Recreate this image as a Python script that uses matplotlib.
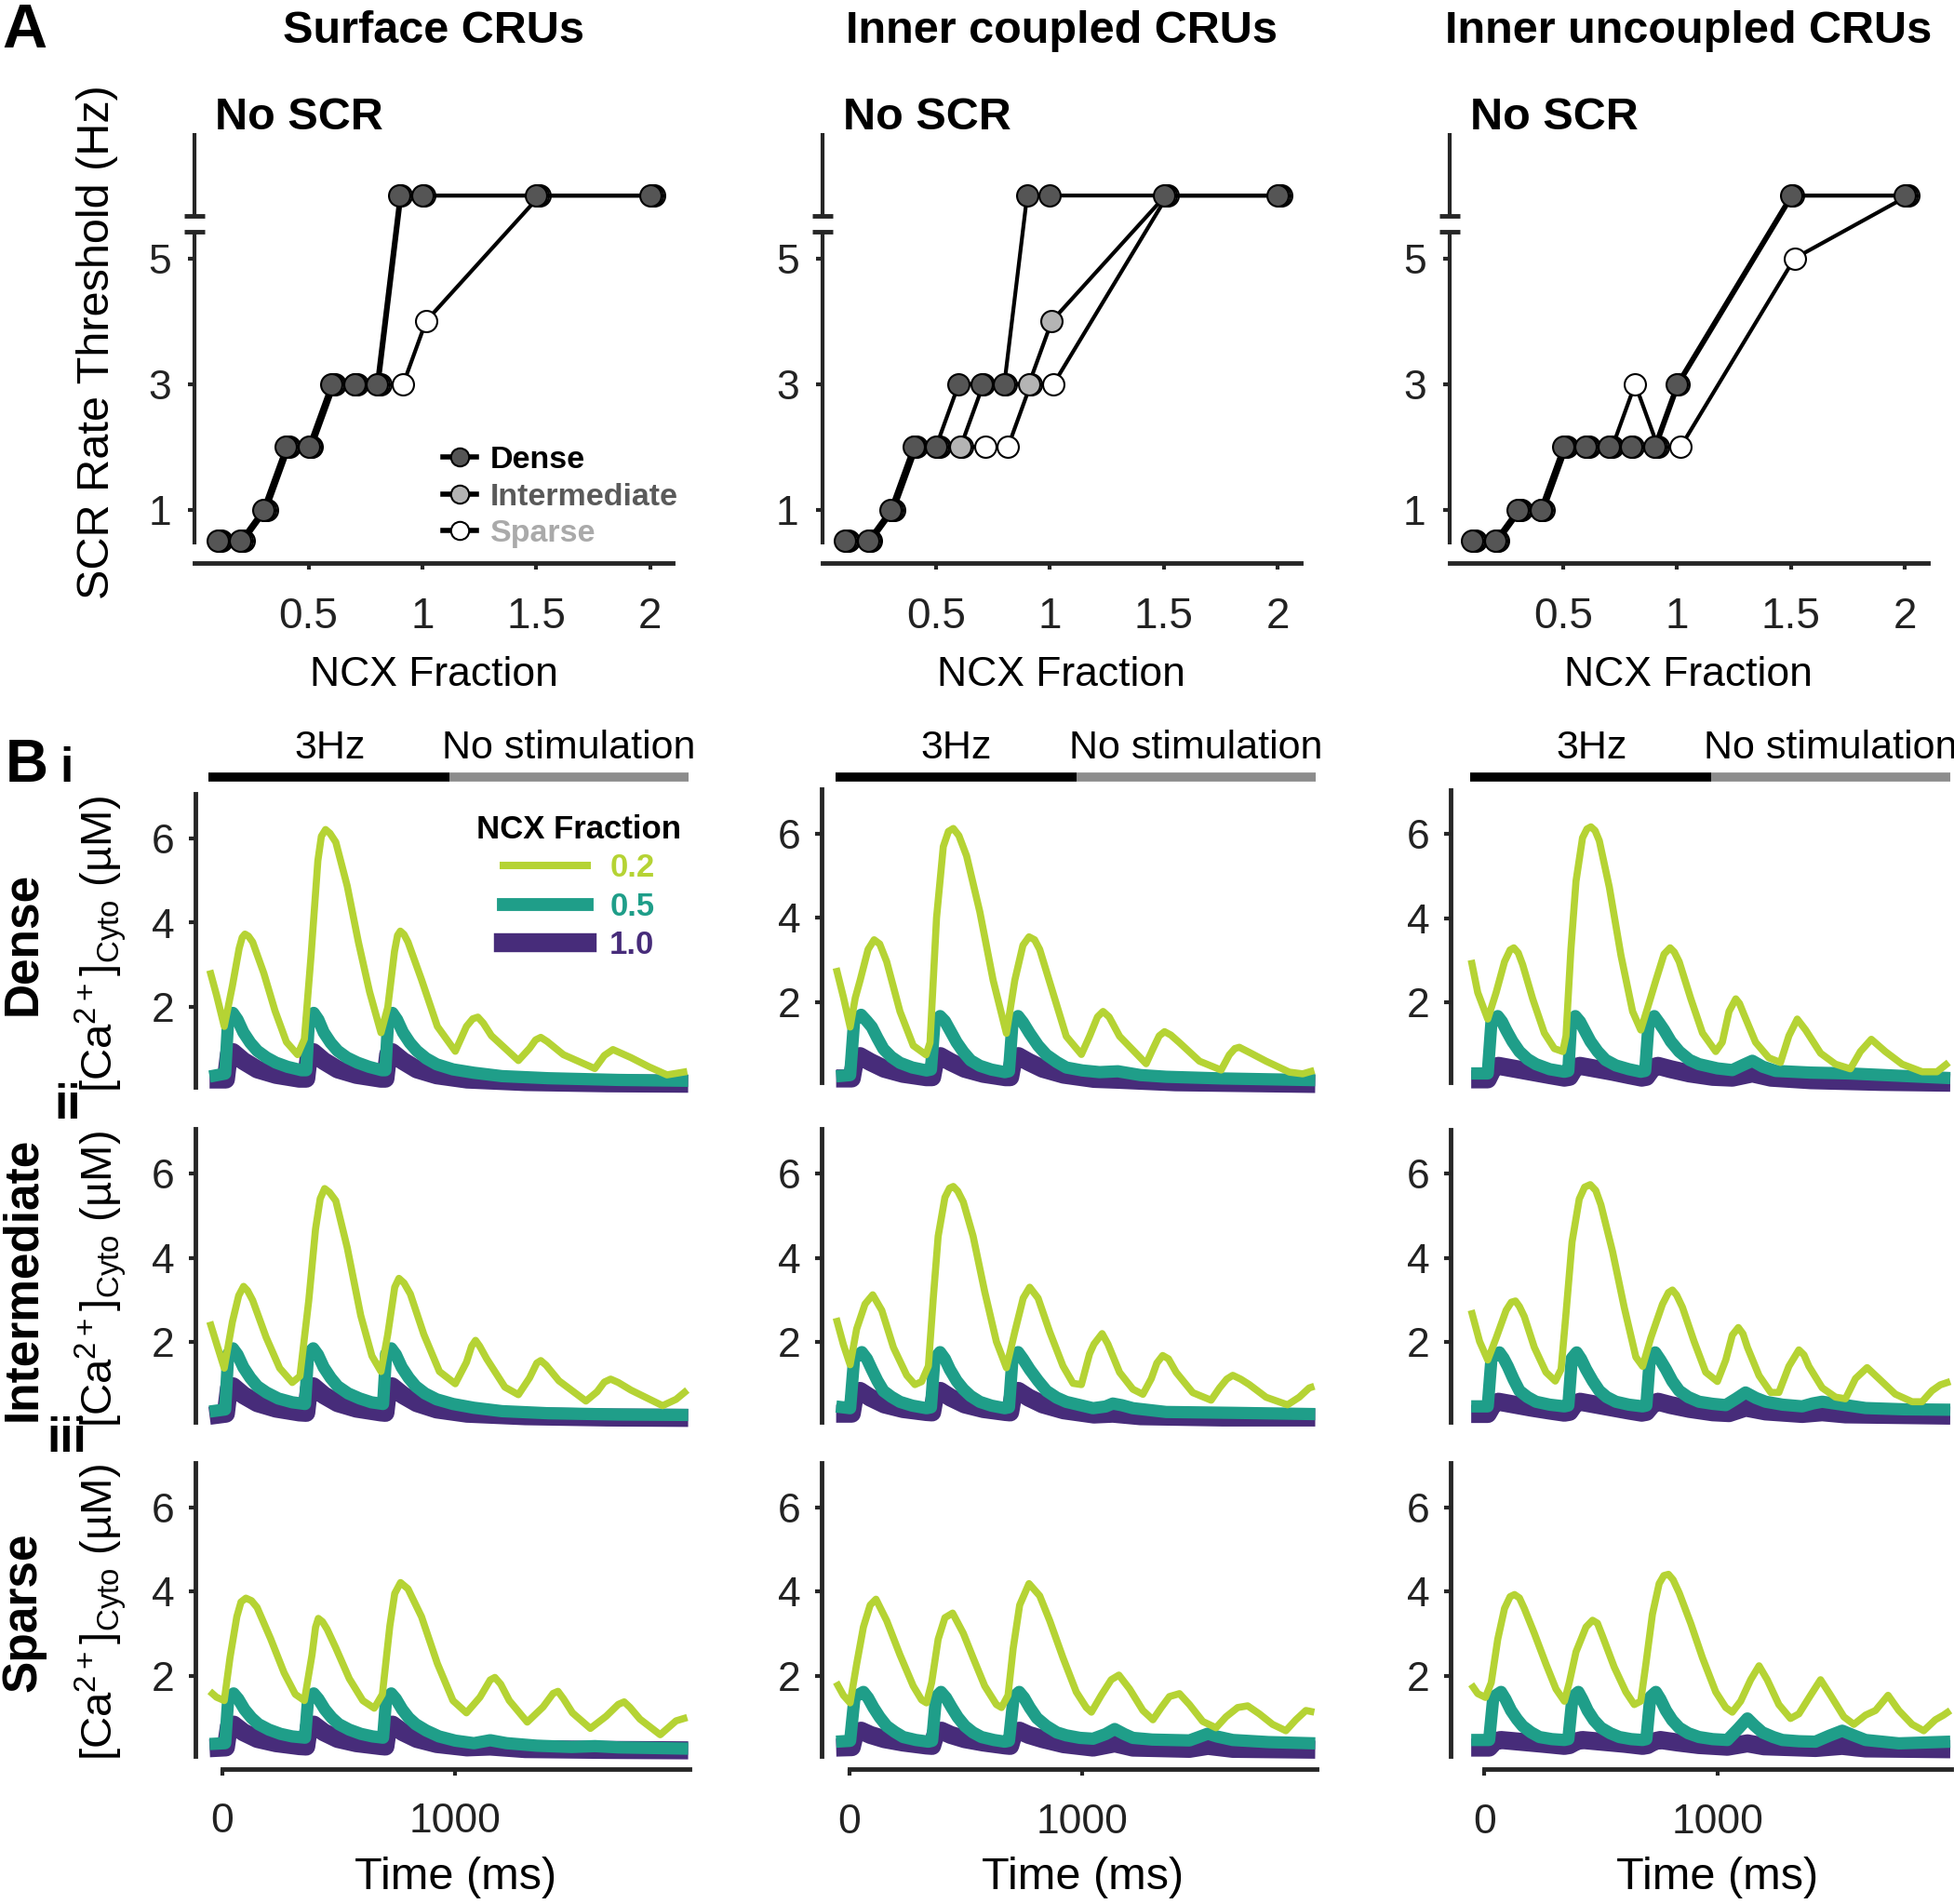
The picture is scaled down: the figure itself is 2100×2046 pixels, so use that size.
import matplotlib
matplotlib.use('Agg')
import matplotlib.pyplot as plt
from matplotlib.lines import Line2D

plt.rcParams['font.family'] = ['Liberation Sans', 'DejaVu Sans']
plt.rcParams['mathtext.default'] = 'regular'

# ---------------- panel A data (No SCR plotted at 6) ----------------
ncx = [0.1, 0.2, 0.3, 0.4, 0.5, 0.6, 0.7, 0.8, 0.9, 1.0, 1.5, 2.0]
surf_dense = [0.5, 0.5, 1, 2, 2, 3, 3, 3, 6, 6, 6, 6]
surf_inter = [0.5, 0.5, 1, 2, 2, 3, 3, 3, 6, 6, 6, 6]
surf_sparse = [0.5, 0.5, 1, 2, 2, 3, 3, 3, 3, 4, 6, 6]
coup_dense = [0.5, 0.5, 1, 2, 2, 3, 3, 3, 6, 6, 6, 6]
coup_inter = [0.5, 0.5, 1, 2, 2, 2, 3, 3, 3, 4, 6, 6]
coup_sparse = [0.5, 0.5, 1, 2, 2, 2, 2, 2, 3, 3, 6, 6]
unco_dense = [0.5, 0.5, 1, 1, 2, 2, 2, 2, 2, 3, 6, 6]
unco_inter = [0.5, 0.5, 1, 1, 2, 2, 2, 2, 2, 3, 6, 6]
unco_sparse = [0.5, 0.5, 1, 1, 2, 2, 2, 3, 2, 2, 5, 6]

col_titles = ['Surface CRUs', 'Inner coupled CRUs', 'Inner uncoupled CRUs']
dens_names = ['Dense', 'Intermediate', 'Sparse']

# ---------------- panel B traces: (time ms, [Ca] uM) ----------------
# surface CRUs
surf_dense_f02 = [(-54, 2.87), (-25, 2.28), (8, 1.54), (43, 2.50), (72, 3.39), (85, 3.65), (97, 3.73), (112, 3.68),
                  (130, 3.54), (178, 2.80), (226, 1.91), (275, 1.17), (323, 0.87), (352, 1.24), (381, 3.24),
                  (410, 5.47), (425, 6.05), (443, 6.21), (462, 6.12), (487, 5.91), (536, 4.87), (584, 3.54),
                  (632, 2.36), (681, 1.39), (710, 1.99), (739, 3.32), (752, 3.70), (764, 3.80), (780, 3.72),
                  (797, 3.54), (855, 2.65), (923, 1.54), (1000, 0.95), (1048, 1.54), (1075, 1.72),
                  (1097, 1.76), (1120, 1.62), (1155, 1.32), (1271, 0.73), (1319, 1.02), (1345, 1.22), (1367, 1.28),
                  (1395, 1.18), (1464, 0.87), (1599, 0.54), (1640, 0.85), (1677, 0.99), (1754, 0.80), (1832, 0.58),
                  (1909, 0.39), (1996, 0.47)]
surf_dense_f05 = [(-55, 0.35), (12, 0.42), (25, 1.72), (45, 1.86), (65, 1.70), (90, 1.40), (120, 1.15), (150, 0.96),
                  (190, 0.80), (230, 0.68), (280, 0.58), (340, 0.50), (360, 0.50), (372, 1.72), (392, 1.86),
                  (412, 1.70), (435, 1.40), (465, 1.15), (495, 0.96), (535, 0.80), (580, 0.68), (630, 0.58),
                  (685, 0.50), (700, 0.50), (712, 1.72), (730, 1.86), (750, 1.70), (775, 1.40), (805, 1.15),
                  (835, 0.96), (875, 0.78), (920, 0.64), (990, 0.52), (1080, 0.44), (1200, 0.36), (1400, 0.31),
                  (1700, 0.27), (2000, 0.25)]
surf_dense_f10 = [(-55, 0.28), (15, 0.28), (28, 0.88), (45, 0.93), (90, 0.72), (150, 0.52), (230, 0.39), (330, 0.30),
                  (360, 0.30), (372, 0.88), (390, 0.93), (435, 0.72), (495, 0.52), (575, 0.39), (680, 0.30),
                  (700, 0.30), (712, 0.88), (728, 0.93), (775, 0.72), (835, 0.52), (920, 0.38), (1050, 0.28),
                  (1300, 0.22), (1650, 0.19), (2000, 0.18)]
surf_inter_f02 = [(-54, 2.48), (-21, 1.89), (8, 1.38), (43, 2.48), (70, 3.10), (91, 3.32), (108, 3.22), (130, 2.99),
                  (188, 2.11), (246, 1.38), (300, 1.04), (333, 1.19), (371, 2.99), (400, 4.68), (420, 5.40),
                  (439, 5.64), (460, 5.55), (487, 5.35), (536, 4.24), (594, 2.63), (642, 1.67), (681, 1.30),
                  (710, 2.18), (740, 3.30), (758, 3.51), (780, 3.40), (807, 3.14), (865, 2.18), (932, 1.30),
                  (1000, 1.01), (1048, 1.52), (1070, 1.90), (1087, 2.04), (1105, 1.90), (1135, 1.60), (1213, 0.93),
                  (1271, 0.75), (1319, 1.15), (1350, 1.50), (1367, 1.56), (1390, 1.45), (1445, 1.08), (1561, 0.60),
                  (1609, 0.82), (1640, 1.05), (1667, 1.12), (1700, 1.04), (1754, 0.86), (1890, 0.49), (1948, 0.64),
                  (1996, 0.86)]
surf_inter_f05 = [(-55, 0.35), (12, 0.40), (25, 1.72), (45, 1.85), (65, 1.70), (90, 1.40), (120, 1.15), (150, 0.95),
                  (190, 0.80), (240, 0.66), (300, 0.57), (355, 0.53), (368, 1.72), (390, 1.85), (410, 1.70),
                  (435, 1.40), (465, 1.15), (495, 0.95), (540, 0.78), (590, 0.66), (640, 0.57), (690, 0.53),
                  (703, 1.72), (725, 1.85), (745, 1.70), (770, 1.40), (800, 1.15), (830, 0.95), (870, 0.78),
                  (920, 0.64), (990, 0.53), (1080, 0.44), (1200, 0.36), (1400, 0.31), (1700, 0.28), (2000, 0.27)]
surf_inter_f10 = [(-55, 0.25), (15, 0.30), (28, 0.90), (45, 0.95), (90, 0.74), (150, 0.55), (230, 0.42), (330, 0.33),
                  (360, 0.32), (372, 0.90), (390, 0.95), (435, 0.74), (495, 0.55), (575, 0.42), (680, 0.33),
                  (700, 0.32), (712, 0.90), (728, 0.95), (775, 0.74), (835, 0.55), (920, 0.40), (1050, 0.30),
                  (1300, 0.24), (1650, 0.21), (2000, 0.20)]
surf_sparse_f02 = [(-54, 1.63), (-25, 1.49), (8, 1.41), (33, 2.44), (62, 3.40), (80, 3.75), (101, 3.84), (125, 3.78),
                   (149, 3.62), (207, 2.88), (265, 2.07), (313, 1.56), (352, 1.41), (385, 2.50), (400, 3.15),
                   (412, 3.36), (430, 3.28), (450, 3.10), (487, 2.66), (545, 1.93), (603, 1.41), (652, 1.23),
                   (687, 1.56), (719, 3.18), (740, 3.95), (765, 4.21), (797, 4.06), (855, 3.40), (923, 2.29),
                   (990, 1.41), (1048, 1.12), (1106, 1.49), (1150, 1.90), (1170, 1.96), (1195, 1.80), (1232, 1.41),
                   (1309, 0.90), (1377, 1.26), (1420, 1.58), (1441, 1.63), (1465, 1.45), (1503, 1.12), (1580, 0.75),
                   (1648, 1.04), (1700, 1.32), (1725, 1.38), (1750, 1.25), (1793, 0.97), (1880, 0.60), (1948, 0.93),
                   (1996, 1.01)]
surf_sparse_f05 = [(-55, 0.38), (12, 0.40), (25, 1.45), (48, 1.58), (68, 1.45), (95, 1.20), (125, 1.00), (155, 0.85),
                   (200, 0.72), (250, 0.62), (300, 0.56), (355, 0.53), (368, 1.45), (392, 1.58), (412, 1.45),
                   (440, 1.20), (470, 1.00), (500, 0.85), (545, 0.72), (595, 0.62), (645, 0.56), (690, 0.53),
                   (703, 1.45), (725, 1.58), (745, 1.45), (772, 1.20), (800, 1.00), (830, 0.85), (875, 0.70),
                   (930, 0.56), (1000, 0.46), (1080, 0.40), (1150, 0.47), (1220, 0.40), (1350, 0.34), (1500, 0.31),
                   (1600, 0.33), (1700, 0.30), (2000, 0.27)]
surf_sparse_f10 = [(-55, 0.28), (15, 0.30), (28, 0.80), (48, 0.84), (90, 0.66), (150, 0.50), (230, 0.40), (330, 0.33),
                   (360, 0.32), (372, 0.80), (392, 0.84), (435, 0.66), (495, 0.50), (575, 0.40), (680, 0.33),
                   (700, 0.32), (712, 0.80), (730, 0.84), (775, 0.66), (835, 0.50), (920, 0.38), (1050, 0.30),
                   (1150, 0.32), (1300, 0.26), (1650, 0.24), (2000, 0.23)]

# inner coupled CRUs
coup_dense_f02 = [(-57, 2.81), (-25, 2.10), (3, 1.41), (25, 2.10), (46, 2.52), (80, 3.25), (106, 3.48), (130, 3.38),
                  (160, 2.96), (217, 1.78), (274, 0.97), (329, 0.75), (346, 1.04), (374, 4.00), (403, 5.69),
                  (425, 6.05), (446, 6.12), (470, 5.95), (503, 5.47), (560, 4.14), (617, 2.52), (674, 1.26),
                  (710, 2.52), (745, 3.35), (771, 3.55), (795, 3.48), (817, 3.25), (874, 2.22), (931, 1.19),
                  (996, 0.76), (1031, 1.19), (1065, 1.65), (1089, 1.78), (1115, 1.65), (1160, 1.19), (1274, 0.54),
                  (1303, 0.89), (1330, 1.20), (1353, 1.30), (1380, 1.22), (1417, 1.04), (1503, 0.60), (1596, 0.39),
                  (1631, 0.75), (1655, 0.90), (1674, 0.93), (1720, 0.80), (1789, 0.60), (1889, 0.34), (1946, 0.30),
                  (1996, 0.38)]
coup_dense_f05 = [(-57, 0.24), (3, 0.27), (20, 1.55), (50, 1.70), (75, 1.55), (96, 1.41), (120, 1.15), (146, 0.89),
                  (180, 0.70), (217, 0.56), (270, 0.45), (331, 0.38), (350, 0.40), (365, 1.50), (389, 1.67),
                  (410, 1.55), (431, 1.34), (460, 1.05), (489, 0.82), (520, 0.62), (560, 0.49), (610, 0.40),
                  (667, 0.34), (685, 0.36), (700, 1.50), (724, 1.67), (745, 1.52), (774, 1.26), (810, 0.97),
                  (846, 0.75), (890, 0.58), (931, 0.45), (1000, 0.38), (1074, 0.34), (1153, 0.36), (1250, 0.27),
                  (1360, 0.23), (1600, 0.19), (2000, 0.15)]
coup_dense_f10 = [(-57, 0.19), (10, 0.19), (25, 0.66), (45, 0.72), (90, 0.58), (150, 0.42), (230, 0.30), (330, 0.22),
                  (355, 0.22), (370, 0.66), (390, 0.72), (435, 0.58), (495, 0.42), (575, 0.30), (670, 0.22),
                  (690, 0.22), (705, 0.66), (725, 0.72), (770, 0.58), (830, 0.42), (920, 0.28), (1050, 0.18),
                  (1150, 0.16), (1400, 0.10), (2000, 0.06)]
coup_inter_f02 = [(-57, 2.57), (-26, 1.94), (3, 1.46), (31, 2.31), (67, 2.90), (100, 3.12), (139, 2.75), (189, 1.87),
                  (246, 1.21), (281, 0.99), (310, 1.06), (339, 1.43), (360, 3.04), (381, 4.51), (410, 5.43),
                  (430, 5.65), (446, 5.69), (465, 5.58), (489, 5.32), (531, 4.51), (581, 3.19), (631, 2.01),
                  (674, 1.39), (710, 2.24), (746, 3.04), (774, 3.30), (810, 3.04), (860, 2.24), (917, 1.43),
                  (960, 1.02), (996, 0.99), (1031, 1.72), (1050, 1.95), (1085, 2.20), (1110, 1.95), (1160, 1.28),
                  (1217, 0.88), (1260, 0.76), (1296, 1.13), (1320, 1.50), (1345, 1.68), (1370, 1.60), (1403, 1.28),
                  (1474, 0.80), (1553, 0.62), (1589, 0.91), (1620, 1.12), (1646, 1.21), (1680, 1.12), (1717, 0.99),
                  (1789, 0.69), (1881, 0.51), (1931, 0.69), (1974, 0.91), (1996, 0.95)]
coup_inter_f05 = [(-57, 0.47), (3, 0.43), (20, 1.60), (53, 1.76), (75, 1.60), (96, 1.35), (120, 1.08), (146, 0.84),
                  (180, 0.70), (217, 0.58), (270, 0.49), (331, 0.43), (350, 0.45), (365, 1.60), (389, 1.76),
                  (410, 1.60), (431, 1.35), (460, 1.08), (489, 0.88), (520, 0.72), (560, 0.58), (610, 0.49),
                  (667, 0.43), (685, 0.45), (700, 1.60), (724, 1.76), (745, 1.60), (774, 1.35), (810, 1.08),
                  (846, 0.84), (890, 0.68), (931, 0.58), (1000, 0.49), (1046, 0.43), (1100, 0.47), (1131, 0.54),
                  (1170, 0.50), (1217, 0.43), (1360, 0.34), (1646, 0.32), (2000, 0.29)]
coup_inter_f10 = [(-57, 0.30), (10, 0.30), (25, 0.80), (45, 0.84), (90, 0.68), (150, 0.52), (230, 0.41), (330, 0.34),
                  (355, 0.33), (370, 0.80), (390, 0.84), (435, 0.68), (495, 0.52), (575, 0.41), (670, 0.34),
                  (690, 0.33), (705, 0.80), (725, 0.84), (770, 0.68), (830, 0.52), (920, 0.38), (1050, 0.28),
                  (1131, 0.30), (1250, 0.24), (1600, 0.21), (2000, 0.21)]
coup_sparse_f02 = [(-57, 1.85), (-26, 1.54), (3, 1.36), (31, 2.28), (60, 3.16), (89, 3.68), (114, 3.82), (160, 3.31),
                   (217, 2.50), (274, 1.76), (310, 1.43), (331, 1.36), (353, 1.84), (381, 2.87), (410, 3.38),
                   (443, 3.49), (489, 3.01), (531, 2.43), (581, 1.76), (631, 1.32), (653, 1.25), (681, 1.54),
                   (703, 2.65), (731, 3.68), (771, 4.19), (817, 3.90), (860, 3.31), (917, 2.43), (974, 1.62),
                   (1017, 1.25), (1039, 1.14), (1081, 1.54), (1124, 1.91), (1157, 2.02), (1203, 1.69), (1260, 1.18),
                   (1303, 0.96), (1339, 1.25), (1374, 1.51), (1417, 1.58), (1460, 1.32), (1517, 0.92), (1574, 0.77),
                   (1617, 1.03), (1667, 1.25), (1710, 1.29), (1760, 1.10), (1817, 0.85), (1874, 0.70), (1917, 0.96),
                   (1960, 1.18), (1996, 1.14)]
coup_sparse_f05 = [(-57, 0.44), (3, 0.46), (22, 1.50), (60, 1.62), (80, 1.48), (103, 1.25), (130, 1.02), (160, 0.81),
                   (195, 0.67), (231, 0.55), (285, 0.48), (339, 0.44), (355, 0.46), (372, 1.50), (393, 1.62),
                   (415, 1.48), (439, 1.25), (465, 1.02), (496, 0.81), (530, 0.66), (567, 0.55), (620, 0.48),
                   (667, 0.44), (685, 0.46), (705, 1.50), (729, 1.62), (750, 1.48), (774, 1.25), (805, 1.00),
                   (846, 0.81), (890, 0.66), (931, 0.59), (990, 0.53), (1046, 0.51), (1100, 0.62), (1139, 0.74),
                   (1180, 0.62), (1217, 0.53), (1300, 0.49), (1460, 0.47), (1500, 0.55), (1539, 0.63), (1580, 0.56),
                   (1646, 0.48), (1800, 0.43), (2000, 0.40)]
coup_sparse_f10 = [(-57, 0.30), (10, 0.31), (25, 0.66), (50, 0.70), (90, 0.60), (150, 0.50), (230, 0.42), (330, 0.35),
                   (355, 0.34), (372, 0.66), (395, 0.70), (435, 0.60), (495, 0.50), (575, 0.42), (670, 0.35),
                   (690, 0.34), (707, 0.66), (730, 0.70), (770, 0.60), (830, 0.50), (920, 0.38), (1046, 0.30),
                   (1139, 0.40), (1217, 0.30), (1460, 0.27), (1539, 0.34), (1646, 0.27), (2000, 0.25)]

# inner uncoupled CRUs
unco_dense_f02 = [(-57, 3.01), (-29, 2.24), (14, 1.61), (50, 2.24), (86, 2.97), (110, 3.25), (126, 3.30), (145, 3.18),
                  (164, 2.90), (207, 2.09), (257, 1.28), (300, 0.91), (336, 0.84), (350, 1.21), (371, 3.26),
                  (393, 4.88), (421, 5.91), (440, 6.12), (457, 6.17), (475, 6.08), (493, 5.84), (536, 4.74),
                  (586, 3.12), (636, 1.79), (671, 1.35), (700, 1.87), (736, 2.53), (771, 3.15), (797, 3.30),
                  (815, 3.20), (836, 2.97), (886, 2.09), (936, 1.28), (993, 0.84), (1021, 1.06), (1050, 1.79),
                  (1079, 2.09), (1095, 1.98), (1114, 1.72), (1164, 1.06), (1221, 0.69), (1271, 0.58), (1307, 1.21),
                  (1343, 1.61), (1379, 1.35), (1443, 0.80), (1507, 0.54), (1571, 0.43), (1614, 0.84), (1661, 1.13),
                  (1721, 0.84), (1793, 0.54), (1879, 0.36), (1943, 0.36), (1993, 0.58)]
unco_dense_f05 = [(-57, 0.32), (14, 0.32), (30, 1.55), (57, 1.68), (75, 1.55), (93, 1.35), (120, 1.08), (150, 0.84),
                  (185, 0.66), (221, 0.54), (280, 0.42), (343, 0.36), (360, 0.38), (372, 1.55), (390, 1.68),
                  (410, 1.55), (429, 1.35), (455, 1.08), (486, 0.84), (520, 0.64), (564, 0.51), (620, 0.42),
                  (671, 0.36), (690, 0.38), (705, 1.55), (729, 1.68), (750, 1.52), (771, 1.35), (800, 1.08),
                  (836, 0.84), (880, 0.64), (921, 0.54), (1000, 0.44), (1064, 0.40), (1110, 0.52), (1150, 0.62),
                  (1195, 0.48), (1250, 0.38), (1400, 0.34), (1564, 0.32), (1800, 0.26), (2000, 0.21)]
unco_dense_f10 = [(-57, 0.18), (14, 0.18), (40, 0.47), (60, 0.50), (120, 0.44), (200, 0.36), (280, 0.28), (343, 0.22),
                  (365, 0.24), (390, 0.47), (410, 0.50), (470, 0.44), (550, 0.36), (620, 0.28), (675, 0.22),
                  (695, 0.24), (725, 0.47), (745, 0.50), (800, 0.42), (880, 0.32), (980, 0.24), (1064, 0.22),
                  (1150, 0.32), (1230, 0.22), (1400, 0.16), (1700, 0.12), (2000, 0.10)]
unco_inter_f02 = [(-57, 2.76), (-21, 2.02), (14, 1.58), (50, 2.10), (93, 2.76), (115, 2.95), (133, 2.98), (150, 2.85),
                  (171, 2.61), (214, 1.88), (264, 1.29), (304, 1.08), (329, 1.36), (350, 2.68), (376, 4.38),
                  (407, 5.40), (430, 5.68), (454, 5.74), (478, 5.60), (500, 5.26), (550, 4.15), (600, 2.83),
                  (650, 1.65), (679, 1.43), (714, 2.10), (764, 2.90), (790, 3.18), (807, 3.24), (825, 3.12),
                  (850, 2.83), (900, 2.02), (950, 1.29), (1000, 1.07), (1036, 1.58), (1064, 2.17), (1090, 2.35),
                  (1110, 2.20), (1129, 1.88), (1179, 1.21), (1229, 0.81), (1264, 0.81), (1307, 1.43), (1350, 1.82),
                  (1372, 1.70), (1393, 1.43), (1450, 0.92), (1507, 0.70), (1550, 0.66), (1593, 1.14), (1643, 1.40),
                  (1693, 1.14), (1764, 0.77), (1836, 0.59), (1879, 0.59), (1921, 0.85), (1957, 0.99), (2000, 1.07)]
unco_inter_f05 = [(-57, 0.48), (14, 0.48), (30, 1.62), (64, 1.76), (82, 1.62), (100, 1.43), (125, 1.12), (150, 0.85),
                  (185, 0.70), (221, 0.59), (280, 0.52), (343, 0.48), (360, 0.50), (375, 1.62), (396, 1.76),
                  (415, 1.60), (436, 1.36), (465, 1.08), (493, 0.85), (525, 0.70), (564, 0.59), (620, 0.52),
                  (679, 0.48), (695, 0.50), (710, 1.62), (733, 1.76), (755, 1.58), (779, 1.36), (806, 1.08),
                  (836, 0.85), (875, 0.70), (921, 0.59), (980, 0.54), (1036, 0.51), (1080, 0.66), (1121, 0.81),
                  (1165, 0.68), (1207, 0.59), (1280, 0.52), (1364, 0.48), (1410, 0.55), (1450, 0.59), (1500, 0.55),
                  (1550, 0.51), (1636, 0.44), (1800, 0.41), (2000, 0.40)]
unco_inter_f10 = [(-57, 0.30), (14, 0.30), (40, 0.55), (60, 0.59), (120, 0.53), (200, 0.45), (280, 0.38), (343, 0.33),
                  (365, 0.35), (390, 0.55), (410, 0.59), (470, 0.53), (550, 0.45), (620, 0.38), (675, 0.33),
                  (695, 0.35), (725, 0.55), (745, 0.59), (800, 0.51), (880, 0.42), (980, 0.34), (1050, 0.32),
                  (1121, 0.45), (1207, 0.36), (1364, 0.30), (1450, 0.34), (1550, 0.29), (2000, 0.26)]
unco_sparse_f02 = [(-57, 1.80), (-29, 1.58), (4, 1.49), (29, 1.84), (57, 2.87), (86, 3.60), (110, 3.88), (129, 3.93),
                   (150, 3.85), (171, 3.60), (214, 3.01), (264, 2.28), (307, 1.69), (343, 1.40), (364, 1.84),
                   (393, 2.57), (436, 3.16), (464, 3.32), (485, 3.25), (507, 2.94), (557, 2.21), (607, 1.62),
                   (643, 1.32), (671, 1.40), (693, 2.28), (721, 3.46), (750, 4.19), (770, 4.38), (790, 4.41),
                   (810, 4.28), (836, 3.97), (886, 3.24), (936, 2.43), (993, 1.62), (1036, 1.25), (1064, 1.14),
                   (1100, 1.40), (1143, 1.91), (1179, 2.24), (1214, 1.91), (1264, 1.32), (1314, 0.99), (1350, 1.10),
                   (1400, 1.54), (1443, 1.91), (1486, 1.54), (1543, 1.03), (1586, 0.85), (1636, 1.07), (1679, 1.18),
                   (1733, 1.54), (1779, 1.18), (1836, 0.85), (1886, 0.70), (1936, 0.96), (1971, 1.07), (2000, 1.18)]
unco_sparse_f05 = [(-57, 0.48), (20, 0.48), (38, 1.50), (71, 1.62), (90, 1.45), (114, 1.18), (140, 0.97), (164, 0.81),
                   (200, 0.66), (236, 0.55), (290, 0.50), (343, 0.48), (360, 0.50), (378, 1.50), (403, 1.62),
                   (420, 1.45), (443, 1.18), (470, 0.95), (500, 0.77), (540, 0.64), (579, 0.55), (630, 0.50),
                   (679, 0.48), (695, 0.50), (712, 1.50), (736, 1.62), (755, 1.45), (779, 1.18), (806, 0.95),
                   (836, 0.77), (875, 0.64), (921, 0.55), (980, 0.50), (1043, 0.48), (1090, 0.75), (1129, 0.99),
                   (1160, 0.82), (1193, 0.66), (1240, 0.55), (1279, 0.48), (1350, 0.45), (1421, 0.44), (1480, 0.58),
                   (1536, 0.70), (1580, 0.60), (1636, 0.48), (1779, 0.40), (2000, 0.44)]
unco_sparse_f10 = [(-57, 0.30), (20, 0.30), (45, 0.45), (70, 0.48), (150, 0.44), (250, 0.39), (343, 0.34), (365, 0.36),
                   (395, 0.45), (420, 0.48), (500, 0.44), (600, 0.39), (679, 0.34), (700, 0.36), (730, 0.45),
                   (755, 0.48), (830, 0.42), (920, 0.36), (1043, 0.32), (1129, 0.40), (1200, 0.33), (1421, 0.29),
                   (1536, 0.34), (1636, 0.28), (2000, 0.26)]

fractions = ['0.2', '0.5', '1.0']
trace_colors = ['#b5d334', '#1f9e89', '#472c7a']
trace_lw = [5.5, 9.5, 14]

W, H = 2100, 2046
fig = plt.figure(figsize=(21, 20.46), dpi=100)
axis_col = '#262626'


def px_axes(l, t, r, b):
    return fig.add_axes([l / W, 1 - b / H, (r - l) / W, (b - t) / H])


def fx(x):
    return x / W


def fy(y):
    return 1 - y / H


# ======================= panel A =======================
a_left = [209.2, 883.6, 1557.6]
a_data = [(surf_dense, surf_inter, surf_sparse),
          (coup_dense, coup_inter, coup_sparse),
          (unco_dense, unco_inter, unco_sparse)]
marker_face = ['#555555', '#b4b4b4', 'white']
offsets = [0.0, 0.008, 0.016]

for c in range(3):
    ax = px_axes(a_left[c], 142.6, a_left[c] + 514, 605)
    ax.set_xlim(0, 2.1)
    ax.set_ylim(0.15, 7.0)
    dense, inter, sparse = a_data[c]
    for k in (2, 1, 0):
        ys = (dense, inter, sparse)[k]
        ax.plot([x + offsets[k] for x in ncx], ys, '-o', color='black', lw=3,
                mfc=marker_face[k], mec='black', ms=16.5, mew=1.5, clip_on=False, zorder=3 + (2 - k))
    for s in ['top', 'right', 'left']:
        ax.spines[s].set_visible(False)
    ax.spines['bottom'].set_linewidth(3.5)
    ax.spines['bottom'].set_color(axis_col)
    # broken y axis
    ax.plot([0, 0], [0.45, 5.42], color=axis_col, lw=3, clip_on=False, solid_capstyle='butt')
    ax.plot([0, 0], [5.67, 7.0], color=axis_col, lw=3, clip_on=False, solid_capstyle='butt')
    for yb in (5.42, 5.67):
        ax.plot([-0.045, 0.045], [yb, yb], color=axis_col, lw=3.5, clip_on=False, solid_capstyle='butt')
    ax.set_yticks([1, 3, 5])
    ax.set_xticks([0.5, 1, 1.5, 2])
    ax.set_xticklabels(['0.5', '1', '1.5', '2'])
    ax.tick_params(axis='y', length=5, width=3, color=axis_col, labelsize=32, pad=13, labelcolor='#222222')
    ax.tick_params(axis='x', length=5, width=3, color=axis_col, labelsize=33, pad=21, labelcolor='#222222')
    ax.text(0.09, 7.05, 'No SCR', fontsize=35, fontweight='bold', ha='left', va='baseline')
    cx = a_left[c] + 257
    fig.text(fx(cx), fy(46), col_titles[c], fontsize=35, fontweight='bold', ha='center', va='baseline')
    fig.text(fx(cx), fy(737), 'NCX Fraction', fontsize=32, ha='center', va='baseline')
    if c == 0:
        handles = [Line2D([0], [0], color='black', lw=4, marker='o', ms=14, mfc=marker_face[k], mec='black', mew=1.5)
                   for k in range(3)]
        leg = ax.legend(handles, dens_names, loc='upper left', bbox_to_anchor=(fx(476), fy(479)),
                        bbox_transform=fig.transFigure, frameon=False, borderpad=0, borderaxespad=0,
                        handlelength=1.05, handletextpad=0.45, labelspacing=0.25,
                        prop={'size': 24.5, 'weight': 'bold'})
        for t, col in zip(leg.get_texts(), ['black', '#5a5a5a', '#aaaaaa']):
            t.set_color(col)

fig.text(fx(105), fy(368), 'SCR Rate Threshold (Hz)', fontsize=35, rotation=90, ha='center', va='center')
fig.text(fx(2), fy(51), 'A', fontsize=48, fontweight='bold', ha='left', va='baseline')

# ======================= panel B =======================
b_left = [210, 883.2, 1559]
b_t0 = [239, 912.9, 1595.4]
b_zero = [[1172.7, 1167.5, 1168], [1532.7, 1532.7, 1533], [1891.3, 1891.5, 1891.5]]
pxms = 0.2503
pxv = 45.3
b_traces = [
    [(surf_dense_f02, surf_dense_f05, surf_dense_f10),
     (coup_dense_f02, coup_dense_f05, coup_dense_f10),
     (unco_dense_f02, unco_dense_f05, unco_dense_f10)],
    [(surf_inter_f02, surf_inter_f05, surf_inter_f10),
     (coup_inter_f02, coup_inter_f05, coup_inter_f10),
     (unco_inter_f02, unco_inter_f05, unco_inter_f10)],
    [(surf_sparse_f02, surf_sparse_f05, surf_sparse_f10),
     (coup_sparse_f02, coup_sparse_f05, coup_sparse_f10),
     (unco_sparse_f02, unco_sparse_f05, unco_sparse_f10)],
]

for r in range(3):
    for c in range(3):
        z = b_zero[r][c]
        right = b_t0[c] + 2005 * pxms
        ax = px_axes(b_left[c], z - 7.05 * pxv, right, z + 0.22 * pxv)
        ax.set_xlim((b_left[c] - b_t0[c]) / pxms, 2005)
        ax.set_ylim(-0.22, 7.05)
        for k in (2, 1, 0):
            tr = b_traces[r][c][k]
            ax.plot([p[0] for p in tr], [p[1] for p in tr], color=trace_colors[k], lw=trace_lw[k],
                    solid_joinstyle='round', solid_capstyle='butt', zorder=2 + (2 - k), clip_on=False,
                    label=fractions[k])
        for s in ['top', 'right']:
            ax.spines[s].set_visible(False)
        ax.spines['left'].set_bounds(0.1, 7.05)
        ax.spines['left'].set_linewidth(3.5)
        ax.spines['left'].set_color(axis_col)
        ax.set_yticks([2, 4, 6])
        ax.tick_params(axis='y', length=5, width=3, color=axis_col, labelsize=32, pad=11, labelcolor='#222222')
        if r == 2:
            ax.spines['bottom'].set_bounds(0, 2005)
            ax.spines['bottom'].set_linewidth(3.5)
            ax.spines['bottom'].set_color(axis_col)
            ax.set_xticks([0, 1000])
            ax.tick_params(axis='x', length=5, width=3, color=axis_col, labelsize=32, pad=21,
                           labelcolor='#222222')
            fig.text(fx(b_t0[c] + 1000 * pxms), fy(2030), 'Time (ms)', fontsize=35, ha='center',
                     va='baseline')
        else:
            ax.spines['bottom'].set_visible(False)
            ax.set_xticks([])
        if r == 0:
            # stimulation bar sits at the same figure height in every column
            vb = (z - 835) / pxv
            vt = (z - 815) / pxv
            ax.plot([-60, 975], [vb, vb], color='black', lw=7, solid_capstyle='butt', clip_on=False)
            ax.plot([975, 2000], [vb, vb], color='#8c8c8c', lw=7, solid_capstyle='butt', clip_on=False)
            ax.text(460, vt, '3Hz', fontsize=31, ha='center', va='baseline')
            ax.text(1487, vt, 'No stimulation', fontsize=31, ha='center', va='baseline')
        if r == 0 and c == 0:
            hs = [Line2D([0], [0], color=trace_colors[k], lw=trace_lw[k] * 1.05) for k in range(3)]
            leg = ax.legend(hs, fractions, loc='upper left', bbox_to_anchor=(fx(512), fy(875)),
                            bbox_transform=fig.transFigure, frameon=False, borderpad=0, borderaxespad=0,
                            handlelength=2.6, handletextpad=0.7, labelspacing=0.24,
                            prop={'size': 25, 'weight': 'bold'}, title='NCX Fraction',
                            title_fontproperties={'size': 25, 'weight': 'bold'})
            for t, col in zip(leg.get_texts(), trace_colors):
                t.set_color(col)
        if c == 0:
            cy = z - 3.5 * pxv
            fig.text(fx(108), fy(cy), r'[Ca$^{2+}$]$_{Cyto}$ (µM)', fontsize=34, rotation=90,
                     ha='center', va='center')
            fig.text(fx(25), fy(cy), dens_names[r], fontsize=37, fontweight='bold', rotation=90,
                     ha='center', va='center')

fig.text(fx(6), fy(840), 'B', fontsize=46, fontweight='bold', ha='left', va='baseline')
fig.text(fx(64), fy(840), 'i', fontsize=37, fontweight='bold', ha='left', va='baseline')
fig.text(fx(58), fy(1202), 'ii', fontsize=37, fontweight='bold', ha='left', va='baseline')
fig.text(fx(50), fy(1560), 'iii', fontsize=37, fontweight='bold', ha='left', va='baseline')

fig.savefig('out.png', dpi=100)
